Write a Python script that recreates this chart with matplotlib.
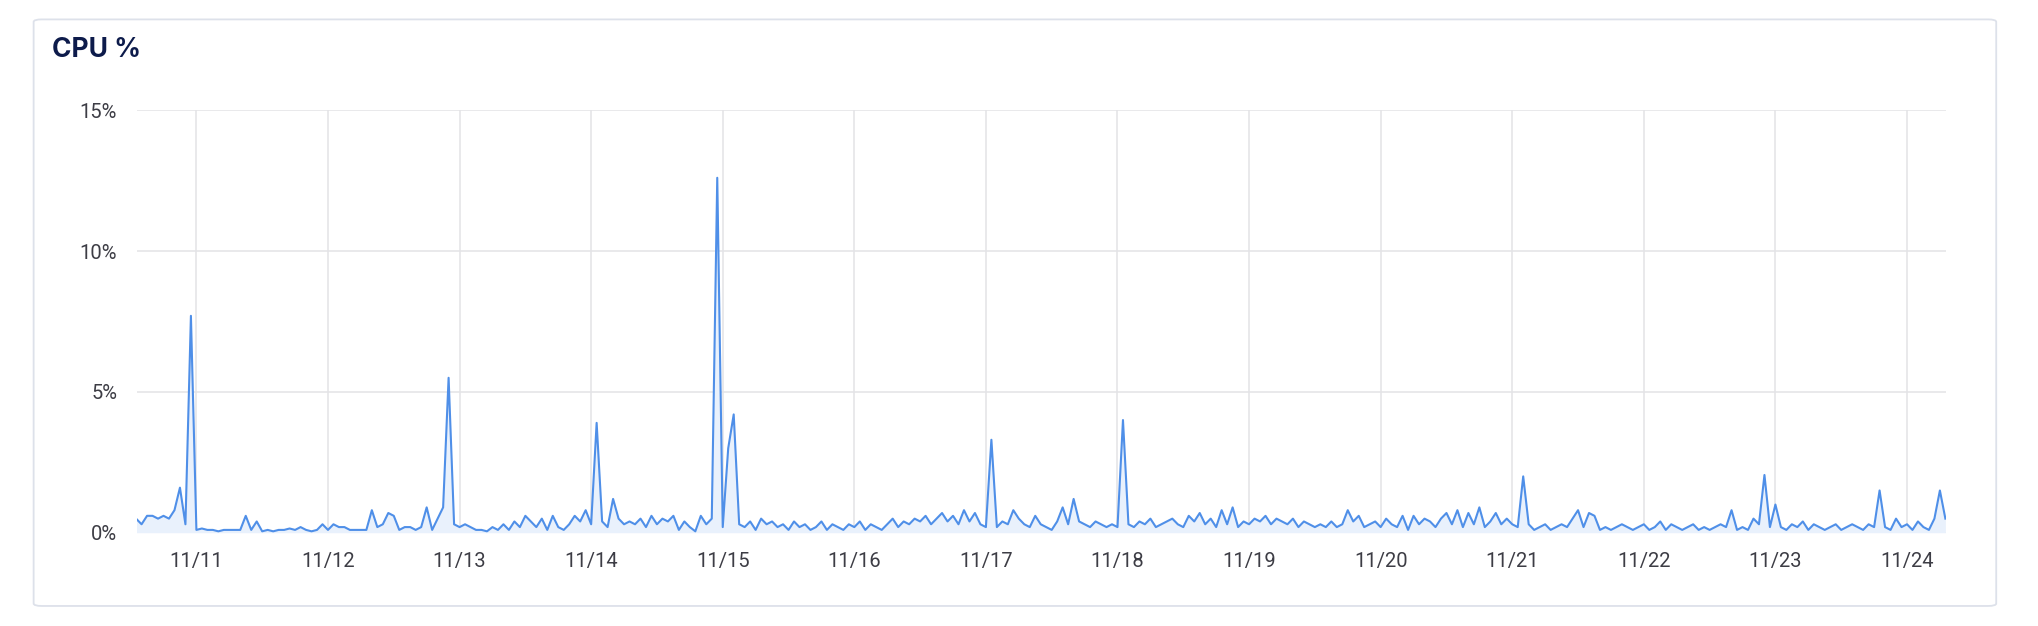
import numpy as np
import matplotlib
matplotlib.use("Agg")
import matplotlib.pyplot as plt
from matplotlib.patches import FancyBboxPatch

plt.rcParams['font.family'] = ['Roboto', 'DejaVu Sans']

# hourly CPU % values per day
d10 = [0.5,0.3,0.6,0.6,0.5,0.6,0.5,0.8,1.6,0.3,7.7]  # starts 13:00
d11 = [0.1,0.15,0.1,0.1,0.05,0.1, 0.1,0.1,0.1,0.6,0.1,0.4, 0.05,0.1,0.05,0.1,0.1,0.15, 0.1,0.2,0.1,0.05,0.1,0.3]
d12 = [0.1,0.3,0.2,0.2,0.1,0.1, 0.1,0.1,0.8,0.2,0.3,0.7, 0.6,0.1,0.2,0.2,0.1,0.2, 0.9,0.1,0.5,0.9,5.5,0.3]
d13 = [0.2,0.3,0.2,0.1,0.1,0.05, 0.2,0.1,0.3,0.1,0.4,0.2, 0.6,0.4,0.2,0.5,0.1,0.6, 0.2,0.1,0.3,0.6,0.4,0.8]
d14 = [0.3,3.9,0.4,0.2,1.2,0.5, 0.3,0.4,0.3,0.5,0.2,0.6, 0.3,0.5,0.4,0.6,0.1,0.4, 0.2,0.05,0.6,0.3,0.5,12.6]
d15 = [0.2,3.0,4.2,0.3,0.2,0.4, 0.1,0.5,0.3,0.4,0.2,0.3, 0.1,0.4,0.2,0.3,0.1,0.2, 0.4,0.1,0.3,0.2,0.1,0.3]
d16 = [0.2,0.4,0.1,0.3,0.2,0.1, 0.3,0.5,0.2,0.4,0.3,0.5, 0.4,0.6,0.3,0.5,0.7,0.4, 0.6,0.3,0.8,0.4,0.7,0.3]
d17 = [0.2,3.3,0.2,0.4,0.3,0.8, 0.5,0.3,0.2,0.6,0.3,0.2, 0.1,0.4,0.9,0.3,1.2,0.4, 0.3,0.2,0.4,0.3,0.2,0.3]
d18 = [0.2,4.0,0.3,0.2,0.4,0.3, 0.5,0.2,0.3,0.4,0.5,0.3, 0.2,0.6,0.4,0.7,0.3,0.5, 0.2,0.8,0.3,0.9,0.2,0.4]
d19 = [0.3,0.5,0.4,0.6,0.3,0.5, 0.4,0.3,0.5,0.2,0.4,0.3, 0.2,0.3,0.2,0.4,0.2,0.3, 0.8,0.4,0.6,0.2,0.3,0.4]
d20 = [0.2,0.5,0.3,0.2,0.6,0.1, 0.6,0.3,0.5,0.4,0.2,0.5, 0.7,0.3,0.8,0.2,0.7,0.3, 0.9,0.2,0.4,0.7,0.3,0.5]
d21 = [0.3,0.2,2.0,0.3,0.1,0.2, 0.3,0.1,0.2,0.3,0.2,0.5, 0.8,0.2,0.7,0.6,0.1,0.2, 0.1,0.2,0.3,0.2,0.1,0.2]
d22 = [0.3,0.1,0.2,0.4,0.1,0.3, 0.2,0.1,0.2,0.3,0.1,0.2, 0.1,0.2,0.3,0.2,0.8,0.1, 0.2,0.1,0.5,0.3,2.05,0.2]
d23 = [1.0,0.2,0.1,0.3,0.2,0.4, 0.1,0.3,0.2,0.1,0.2,0.3, 0.1,0.2,0.3,0.2,0.1,0.3, 0.2,1.5,0.2,0.1,0.5,0.2]
d24 = [0.3,0.1,0.4,0.2,0.1,0.5,1.5,0.5]  # 00:00-07:00

days = [(10, d10, 13), (11, d11, 0), (12, d12, 0), (13, d13, 0), (14, d14, 0), (15, d15, 0),
        (16, d16, 0), (17, d17, 0), (18, d18, 0), (19, d19, 0), (20, d20, 0), (21, d21, 0),
        (22, d22, 0), (23, d23, 0), (24, d24, 0)]
times, vals = [], []
for day, lst, h0 in days:
    base = np.datetime64(f'2023-11-{day:02d}T00:00')
    for i, v in enumerate(lst):
        times.append(base + np.timedelta64(h0 + i, 'h'))
        vals.append(v)
times = np.array(times).astype('datetime64[m]').astype(object)
vals = np.array(vals)

tick_days = list(range(11, 25))
tick_labels = [f'11/{d}' for d in tick_days]

fig = plt.figure(figsize=(20.38, 6.26), dpi=100)
card = FancyBboxPatch((0.0165, 0.032), 0.963, 0.937, boxstyle="round,pad=0,rounding_size=0.004",
                      transform=fig.transFigure, facecolor='white', edgecolor='#dde1ea', lw=1.3,
                      zorder=-10)
fig.patches.append(card)
fig.text(0.0255, 0.92, 'CPU %', fontsize=19, fontweight='bold', color='#0d1b4b',
         family=['Inter', 'DejaVu Sans'], va='center')

ax = fig.add_axes([0.067, 0.149, 0.888, 0.675])
ax.set_zorder(5)
ax.patch.set_alpha(0)
ax.fill_between(times, vals, 0, color='#e9f1fc', lw=0)
ax.plot(times, vals, color='#4f8fe8', lw=1.5)
ax.set_ylim(0, 15)
ax.set_xlim(np.datetime64('2023-11-10T13:05').astype(object), np.datetime64('2023-11-24T07:10').astype(object))
ax.set_yticks([0, 5, 10, 15])
ax.set_yticklabels(['0%', '5%', '10%', '15%'])
ax.set_xticks([np.datetime64(f'2023-11-{d:02d}').astype(object) for d in tick_days])
ax.set_xticklabels(tick_labels)
ax.grid(True, color='#e3e3e6', lw=1.1)
ax.set_axisbelow(True)
for s in ax.spines.values():
    s.set_visible(False)
ax.tick_params(length=0, labelsize=14.5, colors='#3d3d45', pad=14)
fig.savefig('out.png', dpi=100, facecolor='white')
